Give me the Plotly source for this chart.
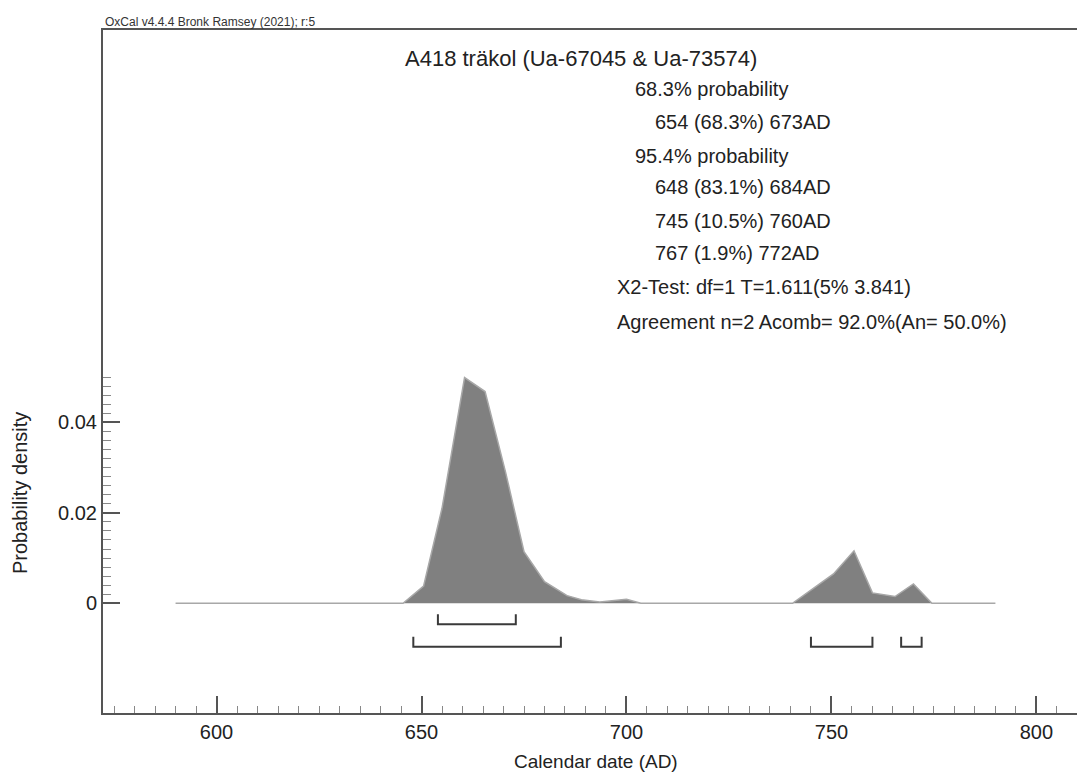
import plotly.graph_objects as go

# ---- data ----
years = [590, 645.5, 650.5, 655, 660.5, 665.5, 670.5, 675, 680, 685.5, 689, 693.5, 700, 703.5,
         740.5, 745.5, 750.5, 755.5, 760, 765.5, 770, 774.5, 790]
density = [0, 0, 0.0038, 0.021, 0.0499, 0.0468, 0.029, 0.0114, 0.0048, 0.0017, 0.0008, 0.0003, 0.0009, 0,
           0, 0.0033, 0.0065, 0.0116, 0.0023, 0.0015, 0.0043, 0, 0]

range68 = [(654, 673)]
range95 = [(648, 684), (745, 760), (767, 772)]

x_major = [600, 650, 700, 750, 800]
y_major = [0, 0.02, 0.04]
y_major_text = ["0", "0.02", "0.04"]
y_minor = [round(0.002 * i, 3) for i in range(26) if i % 10 != 0]

title = "A418 träkol (Ua-67045 & Ua-73574)"
info_lines = [
    ("68.3% probability", 1),
    ("654 (68.3%) 673AD", 2),
    ("95.4% probability", 1),
    ("648 (83.1%) 684AD", 2),
    ("745 (10.5%) 760AD", 2),
    ("767 (1.9%) 772AD", 2),
    ("X2-Test: df=1 T=1.611(5% 3.841)", 0),
    ("Agreement n=2 Acomb= 92.0%(An= 50.0%)", 0),
]
credit = "OxCal v4.4.4 Bronk Ramsey (2021); r:5"
x_title = "Calendar date (AD)"
y_title = "Probability density"

# ---- layout constants (pixels) ----
W, H = 1077, 774
ML, MR, MT, MB = 103, 0, 30, 61
PW, PH = W - ML - MR, H - MT - MB
XR = [572.3, 809.9]
YR = [-0.02424, 0.1267]
FONT = "Liberation Sans, Arial, sans-serif"
TXT = "#222222"
AX = "#555555"


def px_to_paper(px, py):
    return (px - ML) / PW, (H - MB - py) / PH


fig = go.Figure()

# distribution
fig.add_trace(go.Scatter(
    x=years, y=density, mode="lines", fill="tozeroy",
    fillcolor="#808080", line=dict(color="#a8a8a8", width=1.5),
    hoverinfo="skip",
))

# range brackets
ypp = (YR[1] - YR[0]) / PH  # data units per px


def bracket_trace(ranges, level_px):
    y0 = -level_px * ypp
    y1 = y0 + 10 * ypp
    xs, ys = [], []
    for a, b in ranges:
        xs += [a, a, b, b, None]
        ys += [y1, y0, y0, y1, None]
    return go.Scatter(x=xs, y=ys, mode="lines", line=dict(color="#3a3a3a", width=2),
                      hoverinfo="skip")


fig.add_trace(bracket_trace(range68, 21))
fig.add_trace(bracket_trace(range95, 43.5))

annotations = []
# title
tx, ty = px_to_paper(403, 58)
annotations.append(dict(x=tx, y=ty, xref="paper", yref="paper", text=title, showarrow=False,
                        xanchor="left", yanchor="middle", font=dict(family=FONT, size=22, color=TXT)))
# info lines
indent_px = {0: 615, 1: 633, 2: 653}
row_y = [89, 122, 156, 187, 221, 253, 287, 322]
for (txt, lvl), py in zip(info_lines, row_y):
    ax_, ay_ = px_to_paper(indent_px[lvl], py)
    annotations.append(dict(x=ax_, y=ay_, xref="paper", yref="paper", text=txt, showarrow=False,
                            xanchor="left", yanchor="middle", font=dict(family=FONT, size=20, color=TXT)))
# credit
cx, cy = px_to_paper(103, 22)
annotations.append(dict(x=cx, y=cy, xref="paper", yref="paper", text=credit, showarrow=False,
                        xanchor="left", yanchor="middle", font=dict(family=FONT, size=12, color="#333333")))
# axis titles
yx, yy = px_to_paper(20, 493)
annotations.append(dict(x=yx, y=yy, xref="paper", yref="paper", text=y_title, showarrow=False,
                        textangle=-90, xanchor="center", yanchor="middle",
                        font=dict(family=FONT, size=20, color=TXT)))
xx, xy = px_to_paper(596, 761)
annotations.append(dict(x=xx, y=xy, xref="paper", yref="paper", text=x_title, showarrow=False,
                        xanchor="center", yanchor="middle",
                        font=dict(family=FONT, size=19, color=TXT)))

fig.update_layout(
    width=W, height=H,
    margin=dict(l=ML, r=MR, t=MT, b=MB),
    paper_bgcolor="white", plot_bgcolor="white",
    showlegend=False,
    annotations=annotations,
    font=dict(family=FONT, color=TXT, size=20),
)

fig.update_xaxes(
    range=XR, showline=True, linecolor=AX, linewidth=2, mirror=True,
    showgrid=False, zeroline=False,
    ticks="inside", tickmode="array", tickvals=x_major, ticklen=17, tickwidth=1.5, tickcolor=AX,
    minor=dict(dtick=5, tick0=0, ticks="inside", ticklen=7, tickwidth=1, tickcolor="#888888"),
    tickfont=dict(family=FONT, size=20, color=TXT),
)
fig.update_yaxes(
    range=YR, showline=True, linecolor=AX, linewidth=2, mirror=False,
    showgrid=False, zeroline=False,
    ticks="inside", tickmode="array", tickvals=y_major, ticktext=y_major_text,
    ticklen=17, tickwidth=1.5, tickcolor=AX,
    minor=dict(tickmode="array", tickvals=y_minor, ticks="inside", ticklen=8, tickwidth=1,
               tickcolor="#888888"),
    tickfont=dict(family=FONT, size=20, color=TXT),
)

fig.write_html("out.html")
